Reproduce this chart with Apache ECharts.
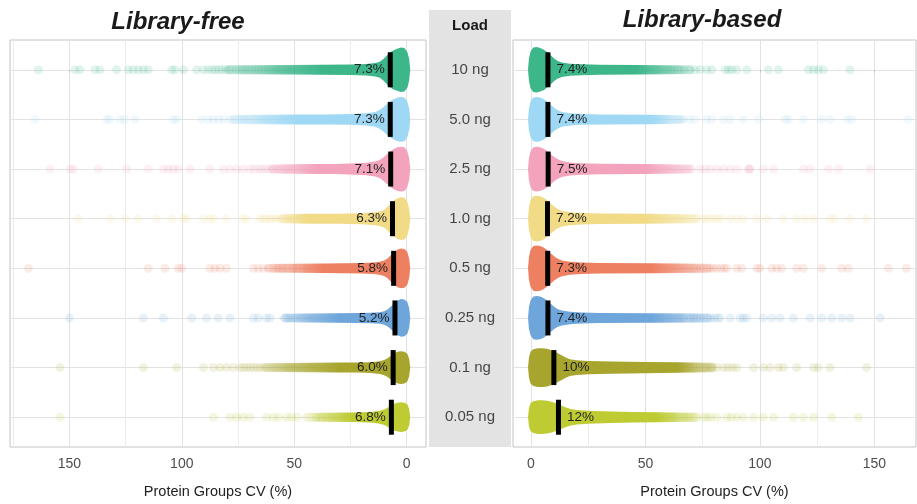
<!DOCTYPE html>
<html><head><meta charset="utf-8">
<script src="https://cdn.jsdelivr.net/npm/echarts@6.0.0/dist/echarts.min.js"></script>
<style>html,body{margin:0;padding:0;background:#fff}#c{width:917px;height:504px}</style>
</head><body><div id="c"></div>
<script>
const categories = ['10 ng','5.0 ng','2.5 ng','1.0 ng','0.5 ng','0.25 ng','0.1 ng','0.05 ng'];
const colors = ['#3DB68A','#9ED8F4','#F3A3BB','#F1DB87','#EE8062','#6EA5DA','#A8A52E','#BECB33'];
const majorTicks = [0, 50, 100, 150];
const minorTicks = [25, 75, 125, 175];

const freeMedian  = [7.3, 7.3, 7.1, 6.3, 5.8, 5.2, 6.0, 6.8];
const basedMedian = [7.4, 7.4, 7.5, 7.2, 7.3, 7.4, 10, 12];

// CV up to which the dense ribbon of points looks solid
const freeSolid  = [38, 48, 40, 44, 37, 30, 30, 24];
const basedSolid = [46, 52, 50, 50, 53, 52, 64, 55];

// violin outlines: [CV, half-width in row units]
const freeShape = [
 [[-1.6,0],[-1.1,0.22],[-0.3,0.36],[1,0.44],[2.5,0.45],[4,0.43],[6,0.39],[7.5,0.35],[9,0.28],[10.5,0.21],[12,0.16],[14,0.135],[18,0.115],[25,0.105],[38,0.1],[55,0.095],[80,0.09],[82,0]],
 [[-1.6,0],[-1.1,0.22],[-0.3,0.36],[1,0.44],[2.5,0.45],[4,0.44],[6,0.4],[7.5,0.36],[9,0.3],[10.5,0.24],[12,0.19],[14,0.15],[18,0.125],[25,0.11],[35,0.1],[48,0.1],[65,0.095],[78,0.09],[80,0]],
 [[-1.6,0],[-1.1,0.22],[-0.3,0.36],[1,0.44],[2.5,0.45],[4,0.44],[6,0.4],[7.5,0.35],[9,0.29],[10.5,0.23],[12,0.18],[14,0.15],[18,0.125],[25,0.11],[32,0.1],[40,0.1],[55,0.095],[60,0.09],[62,0]],
 [[-1.6,0],[-1.1,0.2],[-0.3,0.34],[1,0.42],[2.5,0.43],[4,0.41],[5.5,0.37],[7,0.31],[8.5,0.24],[10,0.18],[12,0.145],[15,0.125],[20,0.11],[30,0.1],[44,0.1],[56,0.09],[58,0]],
 [[-1.6,0],[-1.1,0.2],[-0.3,0.33],[1,0.39],[2.5,0.4],[4,0.38],[5.5,0.33],[7,0.27],[8.5,0.2],[10,0.155],[12,0.13],[15,0.115],[20,0.105],[28,0.1],[37,0.095],[50,0.09],[62,0.085],[64,0]],
 [[-1.6,0],[-1.1,0.2],[-0.3,0.32],[1,0.37],[2.5,0.38],[4,0.35],[5.5,0.3],[7,0.23],[8.5,0.17],[10,0.135],[12,0.115],[16,0.105],[22,0.1],[30,0.095],[45,0.09],[55,0.085],[57,0]],
 [[-1.6,0],[-1.1,0.18],[-0.3,0.28],[1,0.32],[2.5,0.33],[4,0.32],[5.5,0.29],[7,0.24],[8.5,0.19],[10,0.155],[12,0.13],[16,0.11],[22,0.1],[30,0.1],[45,0.095],[63,0.09],[65,0]],
 [[-1.6,0],[-1.1,0.17],[-0.3,0.26],[1,0.29],[2.5,0.3],[4,0.29],[5.5,0.27],[7,0.23],[8.5,0.19],[10,0.155],[12,0.13],[15,0.11],[20,0.1],[24,0.095],[35,0.09],[45,0.085],[47,0]]
];
const basedShape = [
 [[-1.3,0],[-0.9,0.22],[-0.2,0.37],[1,0.45],[2.5,0.46],[4,0.44],[5.5,0.41],[7,0.36],[8.5,0.3],[10,0.23],[11.5,0.18],[13.5,0.145],[17,0.12],[22,0.11],[30,0.1],[46,0.095],[60,0.09],[70,0.085],[72,0]],
 [[-1.3,0],[-0.9,0.22],[-0.2,0.36],[1,0.44],[2.5,0.45],[4,0.44],[5.5,0.41],[7,0.36],[8.5,0.3],[10,0.24],[11.5,0.19],[13.5,0.15],[17,0.125],[22,0.11],[30,0.1],[52,0.095],[66,0.085],[68,0]],
 [[-1.3,0],[-0.9,0.22],[-0.2,0.36],[1,0.44],[2.5,0.45],[4,0.44],[5.5,0.41],[7,0.37],[8.5,0.31],[10,0.25],[11.5,0.2],[13.5,0.16],[17,0.13],[22,0.115],[30,0.105],[50,0.1],[70,0.09],[72,0]],
 [[-1.3,0],[-0.9,0.23],[-0.2,0.37],[1,0.45],[2.5,0.46],[4,0.45],[5.5,0.42],[7,0.37],[8.5,0.31],[10,0.25],[11.5,0.2],[13.5,0.16],[17,0.13],[22,0.115],[30,0.105],[50,0.1],[73,0.09],[75,0]],
 [[-1.3,0],[-0.9,0.23],[-0.2,0.37],[1,0.45],[2.5,0.46],[4,0.45],[5.5,0.42],[7,0.37],[8.5,0.31],[10,0.25],[11.5,0.2],[13.5,0.16],[17,0.13],[22,0.115],[30,0.105],[53,0.1],[78,0.09],[80,0]],
 [[-1.3,0],[-0.9,0.22],[-0.2,0.35],[1,0.43],[2.5,0.44],[4,0.43],[5.5,0.4],[7,0.35],[8.5,0.29],[10,0.23],[11.5,0.18],[13.5,0.15],[17,0.125],[22,0.11],[30,0.1],[52,0.095],[78,0.09],[80,0]],
 [[-1.3,0],[-0.9,0.2],[-0.2,0.32],[1,0.37],[3,0.39],[5,0.39],[7,0.38],[9,0.35],[11,0.31],[13,0.26],[15,0.21],[17,0.17],[20,0.15],[25,0.135],[35,0.125],[50,0.115],[64,0.105],[80,0.095],[82,0]],
 [[-1.3,0],[-0.9,0.18],[-0.2,0.28],[1,0.32],[3,0.34],[5,0.34],[7,0.33],[9,0.31],[11,0.28],[13,0.24],[15,0.2],[17,0.17],[20,0.145],[25,0.13],[35,0.115],[45,0.105],[55,0.1],[73,0.09],[75,0]]
];

// individual protein-group CV points in the sparse tails
const freeDots = [
 [163.8,147.5,145.3,138.6,136.4,129,123.8,121.6,119.3,117.1,114.9,104.5,103,99.3,93.4,90.4,88.2,86.5,85,83.5,82,80.5,79,78,76,74.5,73,72,70.5,69,67.5,66,64.5,63,61.5,60.5,59,58,57,56,55,54,53,52,51,50,49,48,47,46,45,44,43,42],
 [165.3,133.4,132,127.5,125.3,120.8,103.8,102.3,91.2,88.2,86,83.8,81.5,78.6,76.5,74.7,73,72,70,68,66,64.5,63,62,60.5,59,57.5,56,54.5,53,51.5,50,48.5],
 [158.6,149.7,148.2,137.1,124.5,114.9,108.2,106,103.8,101.6,96.4,87.5,81.5,78.6,75.6,72.7,69.7,68,66,64.6,63,61.5,60,59.5,58,57,56,54.5,53.4,52.5,51,49.5,48,46.5,45,44,43,42,41,40],
 [146,132,125.3,119.3,111.2,104.5,99.3,97.9,90.4,87.5,86,80.1,72.7,71.2,65.3,63.8,62.3,60.8,59.5,58,56.5,55,54,53,52,51,50,49,48,47,46,45,44,43],
 [168.2,114.9,107.5,101.6,100.1,87.5,85.3,83,80.1,68.2,66,63.8,61.5,59.3,57.8,56.6,55.1,53.4,50.4,48.9,46,44.5,43,41.5,40,39,38,37],
 [150,117.1,108.2,95.6,89,83.8,78.6,68.2,66,62.3,60.8,54,53,52,50.5,49,47.5,46.5,45,44,43,42,41,40,39,38,37,36,35,34,33,32,31,30,29],
 [154.2,117.1,102.3,90.4,86,83,80.1,77.1,74.1,72.5,71,69.5,68,66.5,65,63.5,62,60.5,59,57.8,56.5,55,54,53,52,51,50,49,48,47,46,45,44,43,42,41,40,39,38,37,36,35,34,33,32,31,30,29],
 [154.2,86,78.6,75.6,72.7,69.7,62.3,59.3,57.1,53.4,51.2,48.9,40,37.8,35.6,33.4,31.2,28.9,28,27,26,25,24,23]
];
const basedDots = [
 [47,48.5,50,51,52.5,54,55,56.5,58,59.5,61,62.3,64,65.5,67,69.5,71.7,73.9,76.8,79,84.8,86.3,87.8,89.9,94.3,103.7,108.1,121.2,123.4,125.5,127.7,139.4],
 [53,54,55,56.5,58,59.4,62.3,64,65.5,66.6,69.5,71.5,76.8,79,84,87,92.8,99.4,111,112.5,119,127,130.6,138,140.1,164.8],
 [51,52,53.5,55,56.5,58,59.5,61,62.3,64,65.5,67,68.5,70,73.9,76,78.3,81.2,84.1,87,89.9,95,95.4,95.7,101.5,105.9,119,122,130,134.3,148.1],
 [49,50.6,52,53.5,55,56.5,58,59.5,61,62.5,64,65.5,67,68.5,70.5,72,75,76.5,78,80,81.5,83,87,89.9,92.8,98.6,103,110.3,116.1,119.7,123.4,130.6,132.8,139.4,146.6],
 [52,53.5,55,56.5,58,59.5,61,62.3,63.7,65,66.5,68,69.5,71,72.4,74,75.5,77,78.3,79.7,81.2,83,84.5,85.5,89.9,92,98.6,100,105.2,107.4,109.5,116.1,119,127,135.7,138.6,156.1,164.1],
 [52,53.5,55,56.5,58,59.5,61,62.3,64,65.5,66.6,69.5,71,72.5,74,75.5,77,78.5,80,81.5,82.6,87,91.3,92.8,94.3,101.5,105.2,108.8,114.6,122,127,131.4,135.7,139.4,152.5],
 [64,65,66.5,68,69.5,71.4,73.9,75.5,77,78.3,79,81.2,84.1,86,88,89.9,97.2,101.5,104.4,108.1,110.3,116.1,123.4,125.5,130.6,146.6],
 [55,56.5,57.9,59.5,61,62.3,63.7,66.6,68,69.5,71.4,75.3,77,78.5,81.2,85.5,87.5,89.9,92.8,97.2,101.5,105.9,114.6,119,123.4,131.4,143]
];

const FONT = "'Liberation Sans', Arial, Helvetica, sans-serif";
const rows = categories.map((_, i) => i);
const fmt = v => (v >= 10 ? v.toFixed(0) : v.toFixed(1)) + '%';
function rgba(hex, a) {
  const n = parseInt(hex.slice(1), 16);
  return 'rgba(' + (n >> 16 & 255) + ',' + (n >> 8 & 255) + ',' + (n & 255) + ',' + a + ')';
}

function violinRender(shapes, solids) {
  return function (params, api) {
    const idx = api.value(1);
    const shape = shapes[idx];
    const pts = [];
    for (let k = 0; k < shape.length; k++) pts.push(api.coord([shape[k][0], idx - shape[k][1]]));
    for (let k = shape.length - 1; k >= 0; k--) pts.push(api.coord([shape[k][0], idx + shape[k][1]]));
    const x0 = api.coord([shape[0][0], idx])[0];
    const x1 = api.coord([shape[shape.length - 1][0], idx])[0];
    const xs = api.coord([solids[idx], idx])[0];
    const off = Math.max(0, Math.min(1, (xs - x0) / (x1 - x0)));
    const c = colors[idx];
    const fill = new echarts.graphic.LinearGradient(x0, 0, x1, 0, [
      { offset: 0, color: c }, { offset: off, color: c }, { offset: 1, color: rgba(c, 0.12) }
    ], true);
    return { type: 'polygon', shape: { points: pts }, style: { fill: fill } };
  };
}

function xAxes(gridIndex, inverse, min, max) {
  return [{
    gridIndex, type: 'value', inverse, min, max, position: 'bottom',
    axisLine: { show: false },
    axisTick: { show: true, length: 3, customValues: majorTicks, lineStyle: { color: '#c4c4c4' } },
    axisLabel: { customValues: majorTicks, color: '#4d4d4d', fontSize: 14, fontFamily: FONT, margin: 10 },
    splitLine: { show: true, lineStyle: { color: '#e2e2e2', width: 1 } },
    name: 'Protein Groups CV (%)', nameLocation: 'middle', nameGap: 37,
    nameTextStyle: { color: '#222', fontSize: 14.5, fontFamily: FONT }
  }, {
    gridIndex, type: 'value', inverse, min, max, position: 'top',
    axisLine: { show: false }, axisLabel: { show: false },
    axisTick: { show: false, customValues: minorTicks },
    splitLine: { show: true, lineStyle: { color: '#ececec', width: 1 } }
  }];
}
function yAxis(gridIndex, position) {
  return {
    gridIndex, type: 'value', inverse: true, min: -0.6, max: 7.6, position,
    axisLine: { show: false }, axisLabel: { show: false },
    axisTick: { show: true, length: 3, customValues: rows, lineStyle: { color: '#c4c4c4' } },
    splitLine: { show: true, lineStyle: { color: '#e2e2e2', width: 1 } }
  };
}

const xs = [].concat(xAxes(0, true, -8.6, 176.4), xAxes(2, false, -7.86, 168.2),
  [{ gridIndex: 1, type: 'value', min: 0, max: 1, show: false }]);
// middle strip starts 30px above the panels: extend its row range accordingly
const ys = [yAxis(0, 'right'), yAxis(2, 'left'),
  { gridIndex: 1, type: 'value', inverse: true, min: -1.2045, max: 7.6, show: false }];

function panelSeries(xi, yi, shapes, solids, dots, medians, side) {
  return [{
    type: 'scatter', xAxisIndex: xi, yAxisIndex: yi, z: 2, symbolSize: 9, silent: true,
    data: dots.flatMap((arr, i) => arr.map(v => [v, i])),
    itemStyle: { color: p => colors[p.value[1]], opacity: 0.15 }
  }, {
    type: 'custom', xAxisIndex: xi, yAxisIndex: yi, z: 3, silent: true, clip: true,
    data: medians.map((m, i) => [m, i]),
    renderItem: violinRender(shapes, solids)
  }, {
    type: 'scatter', xAxisIndex: xi, yAxisIndex: yi, z: 4, silent: true,
    symbol: 'rect', symbolSize: [5, 35],
    data: medians.map((m, i) => [m, i]),
    itemStyle: { color: '#000', opacity: 1 },
    label: { show: true, position: side, distance: side === 'left' ? 3 : 6,
      formatter: p => fmt(p.value[0]), color: '#222', fontSize: 13.5, fontFamily: FONT }
  }];
}

const chart = echarts.init(document.getElementById('c'), null, { renderer: 'canvas' });
chart.setOption({
  animation: false,
  backgroundColor: '#fff',
  grid: [
    { left: 10, top: 40, width: 416, height: 407, show: true, borderColor: '#c4c4c4', borderWidth: 1, backgroundColor: 'transparent', containLabel: false, outerBoundsMode: 'none' },
    { left: 429, top: 10, width: 82, height: 437, show: true, borderWidth: 0, backgroundColor: '#e3e3e3', containLabel: false, outerBoundsMode: 'none' },
    { left: 513, top: 40, width: 403, height: 407, show: true, borderColor: '#c4c4c4', borderWidth: 1, backgroundColor: 'transparent', containLabel: false, outerBoundsMode: 'none' }
  ],
  xAxis: xs,
  yAxis: ys,
  graphic: [
    { type: 'text', x: 178, y: 22, style: { text: 'Library-free', font: "italic bold 24px " + FONT, fill: '#1a1a1a', textAlign: 'center', textVerticalAlign: 'middle' } },
    { type: 'text', x: 702, y: 20, style: { text: 'Library-based', font: "italic bold 24px " + FONT, fill: '#1a1a1a', textAlign: 'center', textVerticalAlign: 'middle' } },
    { type: 'text', x: 470, y: 26, style: { text: 'Load', font: "bold 15px " + FONT, fill: '#1a1a1a', textAlign: 'center', textVerticalAlign: 'middle' } }
  ],
  series: [].concat(
    panelSeries(0, 0, freeShape, freeSolid, freeDots, freeMedian, 'left'),
    panelSeries(2, 1, basedShape, basedSolid, basedDots, basedMedian, 'right'),
    [{
      type: 'scatter', xAxisIndex: 4, yAxisIndex: 2, symbolSize: 0, silent: true,
      data: rows.map(i => [0.5, i]),
      label: { show: true, position: 'inside', formatter: p => categories[p.value[1]], color: '#1a1a1a', fontSize: 15, fontFamily: FONT }
    }]
  )
});
</script>
</body></html>
